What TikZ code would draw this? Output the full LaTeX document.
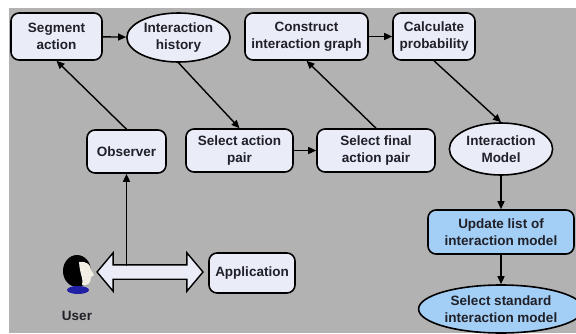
\documentclass[tikz,border=0pt]{standalone}
\usepackage{fontspec}
\setmainfont{Liberation Sans}
\usetikzlibrary{arrows.meta,shapes.geometric,shapes.arrows}
\definecolor{BackClr}{RGB}{178,178,178}
\definecolor{BoxClr}{RGB}{234,237,247}
\definecolor{BlueClr}{RGB}{163,206,245}
\definecolor{TextClr}{RGB}{32,32,40}
\definecolor{SkinClr}{RGB}{242,238,228}
\definecolor{CollarClr}{RGB}{32,32,165}

\begin{document}
\begin{tikzpicture}[x=1pt,y=-1pt,
  every node/.style={font=\fontsize{13.5}{17}\selectfont\bfseries,text=TextClr,align=center,inner sep=2pt},
  procbox/.style={draw=black,line width=1.6pt,rounded corners=8pt,fill=BoxClr},
  procoval/.style={draw=black,line width=1.6pt,ellipse,fill=BoxClr},
  link/.style={line width=1.4pt,-{Triangle[length=8pt,width=7pt]}}]
\useasboundingbox (0,0) rectangle (576,333);
\fill[white] (0,0) rectangle (576,333);
\fill[BackClr] (9,8) rectangle (576,333);

\node[procbox,minimum width=91pt,minimum height=47pt] (seg) at (56.5,36.5) {Segment\\action};
\node[procoval,minimum width=103pt,minimum height=49pt] (hist) at (178.5,37.5) {Interaction\\history};
\node[procbox,minimum width=123pt,minimum height=47pt] (graph) at (306.5,36.5) {Construct\\interaction graph};
\node[procbox,minimum width=82pt,minimum height=47pt] (prob) at (434,36.5) {Calculate\\probability};

\node[procbox,minimum width=79pt,minimum height=43pt] (obs) at (126.5,151.5) {Observer};
\node[procbox,minimum width=107pt,minimum height=43pt] (pair) at (239.5,150.5) {Select action\\pair};
\node[procbox,minimum width=118pt,minimum height=43pt] (final) at (376,150.5) {Select final\\action pair};
\node[procoval,minimum width=99pt,minimum height=52pt] (model) at (501,149) {Interaction\\Model};

\node[procbox,fill=BlueClr,minimum width=146pt,minimum height=44pt] (update) at (501,232) {Update list of\\interaction model};
\node[procoval,fill=BlueClr,minimum width=149pt,minimum height=48pt] (std) at (501,309) {Select standard\\interaction model};

\node[procbox,minimum width=86pt,minimum height=40pt] (app) at (252,273) {Application};

\fill[black] (77,271) ellipse [x radius=14,y radius=16];
\fill[SkinClr] (79,262) .. controls (87,261) and (91,265) .. (91,270)
  -- (94,275) -- (91,277) .. controls (91,283) and (88,286) .. (82,285)
  .. controls (84,279) and (80,276) .. (79,262);
\fill[CollarClr] (78,290) ellipse [x radius=11,y radius=4];
\node (user) at (77,316) {User};

\node[double arrow,draw=black,line width=1.4pt,fill=BoxClr,inner sep=6.5pt,
  minimum height=106pt,minimum width=37pt,double arrow head extend=12pt,
  double arrow tip angle=100] (io) at (150,272) {};
\coordinate (tap) at (126.5,266);

\draw[link] (seg) -- (hist);
\draw[link] (hist.south) -- (pair.north);
\draw[link] (pair) -- (final);
\draw[link] (final.north) -- (graph.south);
\draw[link] (graph) -- (prob);
\draw[link] (prob.south) -- (model.north);
\draw[link] (model) -- (update);
\draw[link] (update) -- (std);
\draw[link] (obs.north) -- (seg.south);
\draw[link] (tap) -- (obs);

\end{tikzpicture}
\end{document}
